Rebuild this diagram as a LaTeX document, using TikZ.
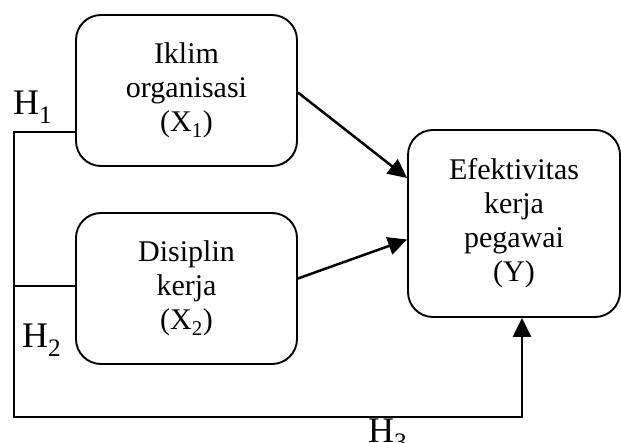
\documentclass[tikz,border=0pt]{standalone}
\usepackage{fontspec}
\setmainfont{Liberation Serif}
\usetikzlibrary{arrows.meta}
\begin{document}
\begin{tikzpicture}[x=1pt,y=-1pt,
	var/.style={draw, line width=1.9pt, rounded corners=25pt, align=center, inner sep=0pt, font=\fontsize{30}{34}\selectfont},
	link/.style={line width=2.2pt},
	arr/.style={line width=2.5pt, -{Triangle[length=19pt,width=18pt]}},
	hyp/.style={font=\fontsize{36}{40}\selectfont, inner sep=0pt, anchor=base west}]
	\useasboundingbox (0,0) rectangle (621,443);
	\node[var, minimum width=221pt, minimum height=151pt] (x1) at (186.5,90.5) {Iklim\\organisasi\\(X\textsubscript{1})};
	\node[var, minimum width=221pt, minimum height=151pt] (x2) at (186.5,288.5) {Disiplin\\kerja\\(X\textsubscript{2})};
	\node[var, minimum width=212pt, minimum height=187pt] (y) at (514,223.5) {Efektivitas\\kerja\\pegawai\\(Y)};
	\coordinate (h1) at (14,132);
	\coordinate (h2) at (14,286);
	\coordinate (h3) at (522,417);
	\draw[arr] ([yshift=-2pt]x1.east) -- ([yshift=45.5pt]y.west);
	\draw[arr] ([yshift=10pt]x2.east) -- ([yshift=-16pt]y.west);
	\draw[link] (h2) -- (h2 -| x2.west);
	\draw[arr, line join=miter] (h1 -| x1.west) -- (h1) |- (h3) -- (h3 |- y.south);
	\foreach \n/\px/\py in {1/13/115, 2/22/348, 3/368/442}{
		\node[hyp] (lab\n) at (\px,\py) {H\textsubscript{\n}};
	}
\end{tikzpicture}
\end{document}
